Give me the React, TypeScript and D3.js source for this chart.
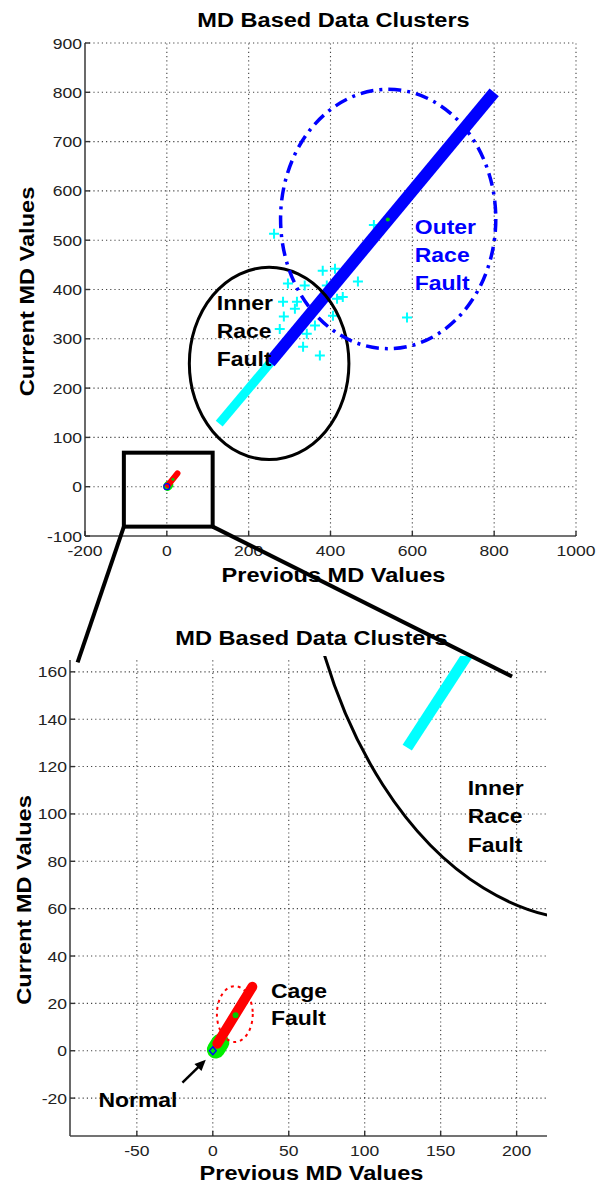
import React from 'react';
import * as d3 from 'd3';

// ---------- data ----------
const xTicksTop = [-200, 0, 200, 400, 600, 800, 1000];
const yTicksTop = [-100, 0, 100, 200, 300, 400, 500, 600, 700, 800, 900];
const xTicksBottom = [-50, 0, 50, 100, 150, 200];
const yTicksBottom = [-20, 0, 20, 40, 60, 80, 100, 120, 140, 160];

// dense clusters (start and end of each diagonal band)
const cyanBand: [number, number][] = [[128, 128], [292, 290]];
const blueBand: [number, number][] = [[252, 252], [800, 800]];
const redBand: [number, number][] = [[3, 3], [26, 27]];
const greenBand: [number, number][] = [[2, 0.5], [5, 3.5]];
const normalPoint: [number, number] = [0, 0];

const cyanOutliers: [number, number][] = [
  [262, 513], [506, 531], [381, 438], [411, 442], [467, 416], [296, 412],
  [430, 385], [286, 345], [313, 361], [333, 284], [374, 266], [362, 327],
  [406, 347], [308, 314], [587, 343], [284, 375], [318, 375], [337, 408],
  [391, 408], [416, 381], [276, 320], [300, 300], [342, 310],
];
const blueCentroid: [number, number] = [540, 542];
const redCentroid: [number, number] = [15, 15];

const innerRaceCircle = { cx: 250, cy: 250, r: 195 };
const outerRaceCircle = { cx: 541, cy: 543, r: 263 };
const cageCircle = { cx: 14.5, cy: 15.5, r: 11.8 };

const zoomRect = { x0: -105, x1: 112, y0: -81, y1: 69 };
const connectorEnds: [number, number][] = [[-89, 164], [197, 158]];
const normalArrow: [number, number][] = [[-20, -13.5], [-4.6, -3.8]];

const titleText = 'MD Based Data Clusters';
const xLabelText = 'Previous MD Values';
const yLabelText = 'Current MD Values';
const innerLabel = ['Inner', 'Race', 'Fault'];
const outerLabel = ['Outer', 'Race', 'Fault'];
const cageLabel = ['Cage', 'Fault'];
const normalLabel = 'Normal';

// ---------- layout ----------
const W = 598, H = 1186;
const FONT = "'Liberation Sans', Arial, Helvetica, sans-serif";

const topX = d3.scaleLinear().domain([-200, 1000]).range([85, 576]);
const topY = d3.scaleLinear().domain([-100, 900]).range([536, 43]);
const botX = d3.scaleLinear().domain([-94, 220]).range([70, 547]);
const botY = d3.scaleLinear().domain([-36, 165]).range([1136, 660]);

type S = d3.ScaleLinear<number, number>;

const T = ({ x, y, size, sx = 1.15, rotate = 0, anchor = 'start', weight = 'normal', fill = '#000', children }: any) => (
  <text
    transform={`translate(${x},${y}) rotate(${rotate}) scale(${sx},1)`}
    fontSize={size}
    textAnchor={anchor}
    fontWeight={weight}
    fill={fill}
    fontFamily={FONT}
  >
    {children}
  </text>
);

const Axes = ({ xs, ys, xt, yt }: { xs: S; ys: S; xt: number[]; yt: number[] }) => {
  const [x0, x1] = xs.range();
  const [y0, y1] = ys.range(); // y0 bottom, y1 top
  return (
    <g>
      {xt.map((t) =>
        xs(t) > x0 + 1 ? (
          <line key={'gx' + t} x1={xs(t)} x2={xs(t)} y1={y0} y2={y1} stroke="#444" strokeWidth={1.1} strokeDasharray="1.2,3" />
        ) : null
      )}
      {yt.map((t) =>
        ys(t) < y0 - 1 ? (
          <line key={'gy' + t} x1={x0} x2={x1} y1={ys(t)} y2={ys(t)} stroke="#444" strokeWidth={1.1} strokeDasharray="1.2,3" />
        ) : null
      )}
      <line x1={x0} x2={x1} y1={y0} y2={y0} stroke="#444" strokeWidth={1.6} />
      <line x1={x0} x2={x0} y1={y0} y2={y1} stroke="#444" strokeWidth={1.6} />
      {xt.map((t) => (
        <line key={'tx' + t} x1={xs(t)} x2={xs(t)} y1={y0} y2={y0 - 5} stroke="#333" strokeWidth={1.4} />
      ))}
      {yt.map((t) => (
        <line key={'ty' + t} x1={x0} x2={x0 + 5} y1={ys(t)} y2={ys(t)} stroke="#333" strokeWidth={1.4} />
      ))}
      {xt.map((t) => (
        <T key={'lx' + t} x={xs(t)} y={y0 + 20} size={15} sx={1.17} anchor="middle" fill="#222">
          {String(t)}
        </T>
      ))}
      {yt.map((t) => (
        <T key={'ly' + t} x={x0 - 3} y={ys(t) + 5.5} size={15} sx={1.17} anchor="end" fill="#222">
          {String(t)}
        </T>
      ))}
    </g>
  );
};

const Band = ({ xs, ys, pts, color, width, cap = 'butt' }: any) => (
  <line
    x1={xs(pts[0][0])}
    y1={ys(pts[0][1])}
    x2={xs(pts[1][0])}
    y2={ys(pts[1][1])}
    stroke={color}
    strokeWidth={width}
    strokeLinecap={cap}
  />
);

const Circ = ({ xs, ys, c, ...rest }: any) => (
  <ellipse
    cx={xs(c.cx)}
    cy={ys(c.cy)}
    rx={Math.abs(xs(c.cx + c.r) - xs(c.cx))}
    ry={Math.abs(ys(c.cy + c.r) - ys(c.cy))}
    fill="none"
    {...rest}
  />
);

const Plus = ({ x, y, s = 5, color }: any) => (
  <path d={`M${x - s},${y}H${x + s}M${x},${y - s}V${y + s}`} stroke={color} strokeWidth={2} />
);

const Labels = ({ xs, ys, titleY, xLabelY, yLabelX }: { xs: S; ys: S; titleY: number; xLabelY: number; yLabelX: number }) => {
  const [x0, x1] = xs.range();
  const [y0, y1] = ys.range();
  const cx = (x0 + x1) / 2 + 3;
  const cy = (y0 + y1) / 2 + 2;
  return (
    <g>
      <T x={cx} y={titleY} size={20.5} weight="bold" anchor="middle">{titleText}</T>
      <T x={cx} y={xLabelY} size={20.5} weight="bold" anchor="middle">{xLabelText}</T>
      <T x={yLabelX} y={cy} size={20.5} weight="bold" anchor="middle" rotate={-90}>{yLabelText}</T>
    </g>
  );
};

const MultiLine = ({ x, y, lines, spacing, color = '#000' }: any) => (
  <g>
    {lines.map((l: string, i: number) => (
      <T key={i} x={x} y={y + i * spacing} size={20.5} sx={1.12} weight="bold" fill={color}>
        {l}
      </T>
    ))}
  </g>
);

export default function App() {
  const botClip = {
    x: botX.range()[0],
    y: botY.range()[1],
    w: botX.range()[1] - botX.range()[0],
    h: botY.range()[0] - botY.range()[1],
  };
  const [ax, ay] = [botX(normalArrow[0][0]), botY(normalArrow[0][1])];
  const [bx, by] = [botX(normalArrow[1][0]), botY(normalArrow[1][1])];
  const ang = Math.atan2(by - ay, bx - ax);
  const hl = 11, hw = 5;
  const head = `M${bx},${by}L${bx - hl * Math.cos(ang) + hw * Math.sin(ang)},${by - hl * Math.sin(ang) - hw * Math.cos(ang)}L${bx - hl * Math.cos(ang) - hw * Math.sin(ang)},${by - hl * Math.sin(ang) + hw * Math.cos(ang)}Z`;

  return (
    <svg width={W} height={H} style={{ position: 'absolute', left: 0, top: 0, background: '#fff' }}>
      <defs>
        <clipPath id="botClip">
          <rect x={botClip.x} y={botClip.y - 4} width={botClip.w} height={botClip.h + 4} />
        </clipPath>
      </defs>
      <rect width={W} height={H} fill="#fff" />

      {/* ---------- top panel ---------- */}
      <Axes xs={topX} ys={topY} xt={xTicksTop} yt={yTicksTop} />
      <Band xs={topX} ys={topY} pts={cyanBand} color="#00ffff" width={9} />
      {cyanOutliers.map((p, i) => (
        <Plus key={i} x={topX(p[0])} y={topY(p[1])} color="#00ffff" />
      ))}
      <Band xs={topX} ys={topY} pts={blueBand} color="#0000ff" width={12} />
      <circle cx={topX(blueCentroid[0])} cy={topY(blueCentroid[1])} r={2} fill="#00cc00" />
      <Band xs={topX} ys={topY} pts={greenBand} color="#00ee00" width={9} cap="round" />
      <Band xs={topX} ys={topY} pts={redBand} color="#ff0000" width={6} cap="round" />
      <circle cx={topX(redCentroid[0])} cy={topY(redCentroid[1])} r={1.5} fill="#00cc00" />
      <circle cx={topX(normalPoint[0])} cy={topY(normalPoint[1])} r={3} fill="none" stroke="#0000ff" strokeWidth={1.2} />
      <Circ xs={topX} ys={topY} c={innerRaceCircle} stroke="#000" strokeWidth={3} />
      <Circ xs={topX} ys={topY} c={outerRaceCircle} stroke="#0000ff" strokeWidth={3.5} strokeDasharray="13,6,3,6" />
      <MultiLine x={topX(122)} y={topY(359)} lines={innerLabel} spacing={28} />
      <MultiLine x={topX(606)} y={topY(513)} lines={outerLabel} spacing={28} color="#0000ff" />
      <rect
        x={topX(zoomRect.x0)}
        y={topY(zoomRect.y1)}
        width={topX(zoomRect.x1) - topX(zoomRect.x0)}
        height={topY(zoomRect.y0) - topY(zoomRect.y1)}
        fill="none"
        stroke="#000"
        strokeWidth={4}
      />
      <Labels xs={topX} ys={topY} titleY={27} xLabelY={582} yLabelX={34} />

      {/* ---------- bottom panel ---------- */}
      <Axes xs={botX} ys={botY} xt={xTicksBottom} yt={yTicksBottom} />
      <g clipPath="url(#botClip)">
        <Band xs={botX} ys={botY} pts={cyanBand} color="#00ffff" width={11} />
        <Circ xs={botX} ys={botY} c={innerRaceCircle} stroke="#000" strokeWidth={3} />
        <Band xs={botX} ys={botY} pts={greenBand} color="#00ee00" width={18} cap="round" />
        <Band xs={botX} ys={botY} pts={redBand} color="#ff0000" width={10} cap="round" />
        <circle cx={botX(redCentroid[0])} cy={botY(redCentroid[1])} r={3} fill="#00cc00" />
        <path
          d={`M${botX(normalPoint[0])},${botY(normalPoint[1]) - 4}l3.5,4l-3.5,4l-3.5,-4z`}
          fill="none"
          stroke="#0000ff"
          strokeWidth={1.3}
        />
        <Circ xs={botX} ys={botY} c={cageCircle} stroke="#ff0000" strokeWidth={2} strokeDasharray="3,4" />
      </g>
      <line x1={ax} y1={ay} x2={bx - 8 * Math.cos(ang)} y2={by - 8 * Math.sin(ang)} stroke="#000" strokeWidth={2.5} />
      <path d={head} fill="#000" />
      <MultiLine x={botX(167.8)} y={botY(108)} lines={innerLabel} spacing={28.5} />
      <MultiLine x={botX(38.3)} y={botY(22.4)} lines={cageLabel} spacing={27} />
      <T x={botX(-75.3)} y={botY(-23.6)} size={20.5} sx={1.12} weight="bold">{normalLabel}</T>
      <Labels xs={botX} ys={botY} titleY={645} xLabelY={1180} yLabelX={31} />

      {/* ---------- zoom connectors ---------- */}
      <line x1={topX(zoomRect.x0)} y1={topY(zoomRect.y0)} x2={botX(connectorEnds[0][0])} y2={botY(connectorEnds[0][1])} stroke="#000" strokeWidth={4} />
      <line x1={topX(zoomRect.x1)} y1={topY(zoomRect.y0)} x2={botX(connectorEnds[1][0])} y2={botY(connectorEnds[1][1])} stroke="#000" strokeWidth={4} />
    </svg>
  );
}
